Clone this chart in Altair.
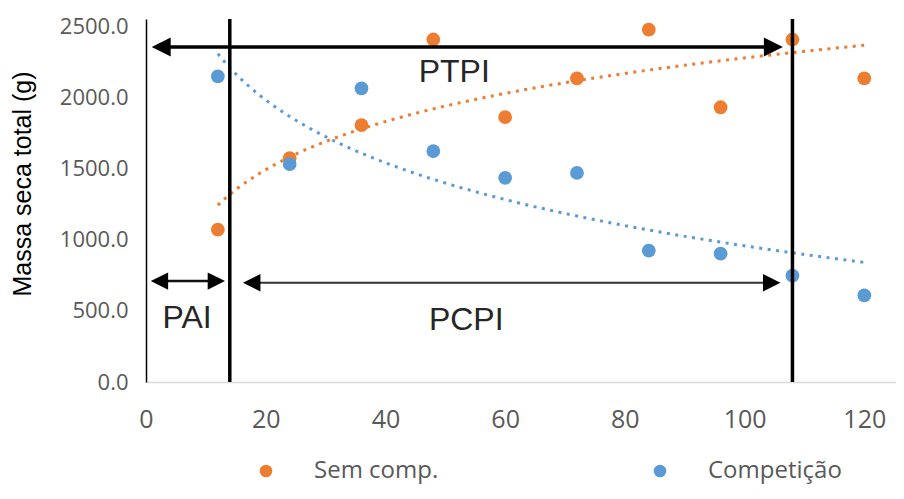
import altair as alt
import pandas as pd

# ---- data ----
days = [12, 24, 36, 48, 60, 72, 84, 96, 108, 120]
sem_comp = [1070, 1573, 1804, 2406, 1860, 2133, 2476, 1930, 2406, 2133]
competicao = [2147, 1531, 2063, 1622, 1434, 1469, 923, 902, 748, 608]
series_names = ["Sem comp.", "Competição"]
series_colors = ["#ED7D31", "#5B9BD5"]

x_ticks = [0, 20, 40, 60, 80, 100, 120]
y_ticks = [0, 500, 1000, 1500, 2000, 2500]

limit_x = [14, 108]

arrow_names = ["PTPI", "PAI", "PCPI"]
arrow_start = [0.95, 0.8, 16.2]
arrow_end = [106.4, 13.2, 106.0]
arrow_y = [2353, 709, 697]

label_text = ["PTPI", "PAI", "PCPI"]
label_x = [51.5, 6.85, 53.5]
label_y = [2180, 449, 436]

# ---- tables ----
df = pd.DataFrame({
    "x": days + days,
    "y": sem_comp + competicao,
    "series": [series_names[0]] * len(days) + [series_names[1]] * len(days),
})
vl = pd.DataFrame({"x": limit_x})
arr = pd.DataFrame({"name": arrow_names, "x1": arrow_start, "x2": arrow_end, "y": arrow_y})
lab = pd.DataFrame({"text": label_text, "x": label_x, "y": label_y})

x_scale = alt.Scale(domain=[0, 125.3], nice=False, zero=False)
y_scale = alt.Scale(domain=[0, 2550], nice=False, zero=False)
color_scale = alt.Scale(domain=series_names, range=series_colors)

x_axis = alt.Axis(values=x_ticks, grid=False, ticks=False, domainColor="#d9d9d9",
                  domainWidth=1.5, labelFont="Open Sans", labelFontSize=25,
                  labelColor="#595959", labelPadding=25, labelFlush=False, title=None)
y_axis = alt.Axis(values=y_ticks, format=".1f", grid=False, ticks=False,
                  domainColor="#000000", domainWidth=1.5, labelFont="Open Sans",
                  labelFontSize=22, labelColor="#595959", labelPadding=18,
                  title="Massa seca total (g)", titleFont="Liberation Sans",
                  titleFontSize=25, titleFontWeight="normal", titleColor="#000000",
                  titleX=-123.5, titleY=164.5, titleAngle=-90, titleAlign="center",
                  titleBaseline="middle")


def X(field, **kw):
    return alt.X(field, type="quantitative", scale=x_scale, **kw)


def Y(field, **kw):
    return alt.Y(field, type="quantitative", scale=y_scale, **kw)


trends = []
for name, col in zip(series_names, series_colors):
    trends.append(
        alt.Chart(df).transform_filter(alt.datum.series == name).transform_regression(
            "x", "y", method="log", extent=[12, 120]
        ).mark_line(strokeWidth=3, strokeDash=[3, 5.5], strokeCap="butt", color=col).encode(
            x=X("x"), y=Y("y"))
    )

points = alt.Chart(df).mark_circle(size=190, opacity=1).encode(
    x=X("x", axis=x_axis),
    y=Y("y", axis=y_axis),
    color=alt.Color("series:N", scale=color_scale, sort=series_names, legend=alt.Legend(
        title=None, orient="none", legendX=108, legendY=440, direction="horizontal",
        symbolType="circle", symbolSize=160, symbolStrokeWidth=0,
        labelFont="Open Sans", labelFontSize=24, labelColor="#595959",
        labelOffset=36, columnPadding=209)),
)

vlines = alt.Chart(vl).mark_rule(color="black", strokeWidth=3.5).encode(x=X("x"))

LEFT = "M0,0L2,-1L2,1Z"
RIGHT = "M0,0L-2,-1L-2,1Z"


def arrow(name, width, head, color):
    b = alt.Chart(arr).transform_filter(alt.datum.name == name)
    line = b.mark_rule(strokeWidth=width, color=color, xOffset=6, x2Offset=-6).encode(
        x=X("x1"), x2="x2:Q", y=Y("y"))
    lh = b.mark_point(shape=LEFT, filled=True, size=head, color="black", opacity=1,
                      strokeWidth=0).encode(x=X("x1"), y=Y("y"))
    rh = b.mark_point(shape=RIGHT, filled=True, size=head, color="black", opacity=1,
                      strokeWidth=0).encode(x=X("x2"), y=Y("y"))
    return [line, lh, rh]


arrows = arrow("PTPI", 3.5, 361, "black") + arrow("PAI", 2.5, 300, "#111111") + \
    arrow("PCPI", 2.0, 306, "#333333")

text = alt.Chart(lab).mark_text(font="Liberation Sans", fontSize=32, color="#262626",
                                baseline="middle", align="center").encode(
    x=X("x"), y=Y("y"), text="text:N")

chart = alt.layer(*trends, points, vlines, *arrows, text).properties(
    width=750, height=363,
    autosize=alt.AutoSizeParams(type="none"),
    padding={"left": 138, "top": 11, "right": 0, "bottom": 106},
).configure_view(stroke=None)

chart.save("out.html", embed_options={"renderer": "svg", "actions": False})
